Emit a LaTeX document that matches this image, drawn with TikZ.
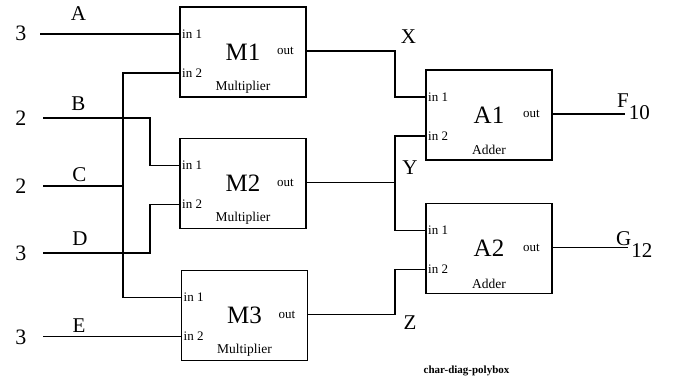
\documentclass[tikz,border=0pt]{standalone}
\usepackage{fontspec}
\setmainfont{Liberation Serif}
\usetikzlibrary{calc}

\begin{document}
\begin{tikzpicture}[x=1pt, y=1pt,
  unit/.style={draw, line width=1.4pt, minimum width=126pt, minimum height=90pt, inner sep=0pt, outer sep=0pt},
  wire/.style={line width=1.2pt},
  bigname/.style={font=\fontsize{25}{25}\selectfont, inner sep=0pt},
  portlbl/.style={font=\fontsize{13}{13}\selectfont, inner sep=2pt},
  kindlbl/.style={font=\fontsize{13.5}{13.5}\selectfont, inner sep=0pt},
  siglbl/.style={font=\fontsize{21}{21}\selectfont, inner sep=0pt},
  vallbl/.style={font=\fontsize{22}{22}\selectfont, inner sep=0pt}]
  \useasboundingbox (0,0) rectangle (674,-382);

  \node[unit] at (243,-52) (m1) {};
  \node[unit] at (243,-183.5) (m2) {};
  \node[unit] at (244.5,-315.5) (m3) {};
  \node[unit] at (489,-115) (a1) {};
  \node[unit] at (489,-248.5) (a2) {};

  \foreach \b/\t/\k in {m1/M1/Multiplier, m2/M2/Multiplier, m3/M3/Multiplier, a1/A1/Adder, a2/A2/Adder} {
    \coordinate (\b-in1) at ([yshift=-27]\b.north west);
    \coordinate (\b-in2) at ([yshift=-66]\b.north west);
    \coordinate (\b-out) at ([yshift=-44]\b.north east);
    \node[bigname] at (\b) (\b-name) {\t};
    \node[kindlbl] at ([yshift=10]\b.south) (\b-kind) {\k};
    \node[portlbl, anchor=west] at (\b-in1) (\b-l1) {in 1};
    \node[portlbl, anchor=west] at (\b-in2) (\b-l2) {in 2};
    \node[portlbl, anchor=east] at ([xshift=-10]\b-out) (\b-lo) {out};
  }

  % inputs
  \coordinate (inA) at (40,0 |- m1-in1);
  \coordinate (inB) at (43,-118);
  \coordinate (inC) at (43,-186);
  \coordinate (inD) at (43,-253);
  \coordinate (inE) at (43,0 |- m3-in2);
  \coordinate (busx) at (123,0);
  \coordinate (jogx) at (150,0);
  \coordinate (midx) at (395,0);
  \coordinate (outF) at (625,0 |- a1-out);
  \coordinate (outG) at (628,0 |- a2-out);

  \node[vallbl] at (21,-33) (vA) {3};
  \node[vallbl] at (21,-118) (vB) {2};
  \node[vallbl] at (21,-186) (vC) {2};
  \node[vallbl] at (21,-253) (vD) {3};
  \node[vallbl] at (21,-337) (vE) {3};
  \node[siglbl] at (78.5,-13.5) (lA) {A};
  \node[siglbl] at (78.5,-103.5) (lB) {B};
  \node[siglbl] at (79.5,-174.5) (lC) {C};
  \node[siglbl] at (80,-238.5) (lD) {D};
  \node[siglbl] at (79,-325.5) (lE) {E};
  \node[siglbl] at (408.5,-36.5) (lX) {X};
  \node[siglbl] at (410,-167.5) (lY) {Y};
  \node[siglbl] at (410,-322.5) (lZ) {Z};
  \node[siglbl, anchor=base west] at (617,-108) (lF) {F\raisebox{-12pt}{10}};
  \node[siglbl, anchor=base west] at (616,-245) (lG) {G\raisebox{-12pt}{12}};

  \draw[wire] (inA) -- (m1-in1);
  \draw[wire] (inB) -- (inB -| jogx) |- (m2-in1);
  \draw[wire] (inC) -- (inC -| busx);
  \draw[wire] (m1-in2) -- (m1-in2 -| busx) -- (m3-in1 -| busx) -- (m3-in1);
  \draw[wire] (inD) -- (inD -| jogx) |- (m2-in2);
  \draw[wire] (inE) -- (m3-in2);

  \draw[wire] (m1-out) -- (m1-out -| midx) |- (a1-in1);
  \draw[wire] (m2-out) -- (m2-out -| midx);
  \draw[wire] (a1-in2) -- (a1-in2 -| midx) -- (a2-in1 -| midx) -- (a2-in1);
  \draw[wire] (m3-out) -- (m3-out -| midx) |- (a2-in2);
  \draw[wire] (a1-out) -- (outF);
  \draw[wire] (a2-out) -- (outG);

  \node[font=\fontsize{11}{11}\selectfont\bfseries] at (466.5,-371) (cap) {char-diag-polybox};
\end{tikzpicture}
\end{document}
